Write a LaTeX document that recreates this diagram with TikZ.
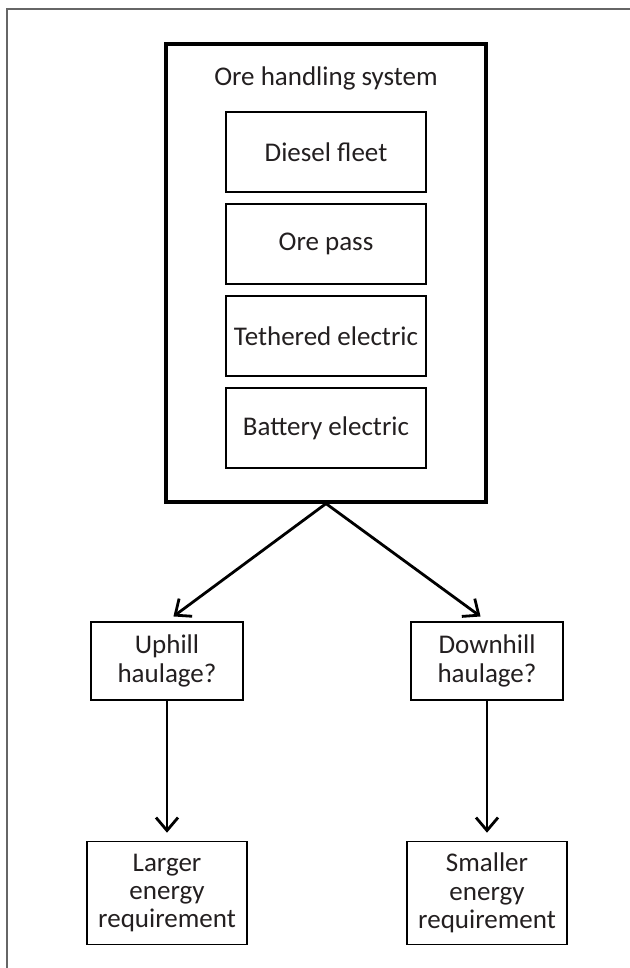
\documentclass[tikz,border=0pt]{standalone}
\usepackage{fontspec}
\setmainfont{Carlito}
\usetikzlibrary{arrows.meta}
\definecolor{ink}{HTML}{231F20}
\begin{document}
\begin{tikzpicture}[x=0.5pt,y=-0.5pt,
    txt/.style={text=ink, align=center, font=\fontsize{13.5}{14.2}\selectfont},
    box/.style={txt, draw, line width=0.8pt, inner sep=0pt},
    arr/.style={line width=1.4pt, -{Straight Barb[length=6.5pt,width=11pt]}, shorten >=4pt}]
    \useasboundingbox (0,0) rectangle (630,968);
    \draw[gray!80!black, line width=0.8pt] (7,968) -- (7,9) -- (630,9);

    \node[draw, line width=1.6pt, minimum width=160pt, minimum height=229pt] (ohs) at (326,273) {};
    \node[txt] (title) at (326,78) {Ore handling system};
    \node[box, minimum width=100pt, minimum height=40pt] (diesel) at (326,152) {Diesel fleet};
    \node[box, minimum width=100pt, minimum height=40pt] (pass) at (326,244) {Ore pass};
    \node[box, minimum width=100pt, minimum height=40pt] (tether) at (326,336) {Tethered electric};
    \node[box, minimum width=100pt, minimum height=40pt] (battery) at (326,428) {Battery electric};

    \node[box, minimum width=76pt, minimum height=39pt] (up) at (167,661) {Uphill\\haulage?};
    \node[box, minimum width=76pt, minimum height=39pt] (down) at (487,661) {Downhill\\haulage?};
    \node[box, minimum width=80pt, minimum height=51.5pt] (larger) at (167,893) {Larger\\energy\\requirement};
    \node[box, minimum width=80pt, minimum height=51.5pt] (smaller) at (487,893) {Smaller\\energy\\requirement};

    \draw[arr] (ohs.south) -- (up.north);
    \draw[arr] (ohs.south) -- (down.north);
    \draw[arr] (up.south) -- (larger.north);
    \draw[arr] (down.south) -- (smaller.north);
\end{tikzpicture}
\end{document}
